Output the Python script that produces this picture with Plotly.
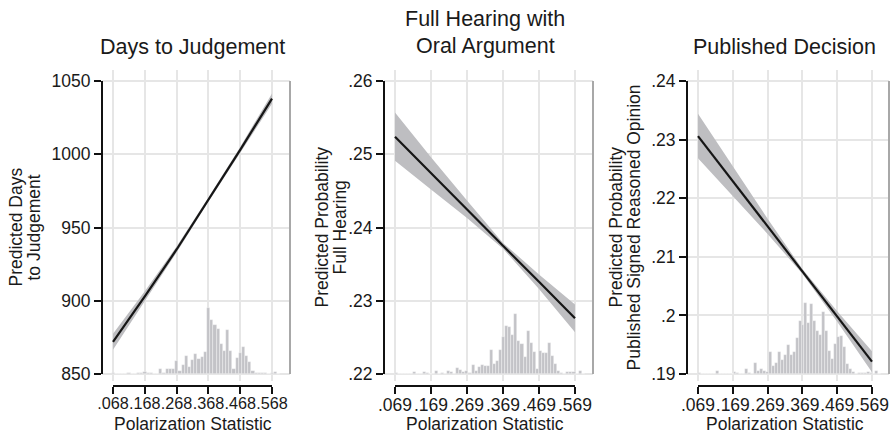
import plotly.graph_objects as go

W, H = 893, 435

# ---------------- data ----------------
x_ticks_1 = [0.068, 0.168, 0.268, 0.368, 0.468, 0.568]
x_labels_1 = [".068", ".168", ".268", ".368", ".468", ".568"]
x_ticks_23 = [0.069, 0.169, 0.269, 0.369, 0.469, 0.569]
x_labels_23 = [".069", ".169", ".269", ".369", ".469", ".569"]

days_pred = [872, 903, 935, 969, 1003, 1038]
days_lo = [866.5, 899.5, 933.0, 967.5, 1001.0, 1034.5]
days_hi = [877.5, 906.5, 937.0, 970.5, 1005.0, 1041.5]
days_yticks = [850, 900, 950, 1000, 1050]
days_ylabels = ["850", "900", "950", "1000", "1050"]

hear_pred = [0.2524, 0.2474, 0.2425, 0.2375, 0.2326, 0.2276]
hear_lo = [0.2491, 0.2452, 0.2413, 0.2371, 0.2316, 0.2257]
hear_hi = [0.2557, 0.2496, 0.2437, 0.2379, 0.2336, 0.2295]
hear_yticks = [0.22, 0.23, 0.24, 0.25, 0.26]
hear_ylabels = [".22", ".23", ".24", ".25", ".26"]

pub_pred = [0.2306, 0.2229, 0.2152, 0.2075, 0.1998, 0.1921]
pub_lo = [0.2268, 0.2204, 0.2139, 0.2071, 0.1989, 0.1903]
pub_hi = [0.2344, 0.2254, 0.2165, 0.2079, 0.2007, 0.1939]
pub_yticks = [0.19, 0.20, 0.21, 0.22, 0.23, 0.24]
pub_ylabels = [".19", ".2", ".21", ".22", ".23", ".24"]

# histograms of the polarization statistic (case counts per bin)
hist1_start, hist1_width = 0.0635, 0.01
hist1_counts = [2, 0, 0, 0, 0, 4, 0, 0, 4, 2, 6, 4, 3, 0, 0, 15, 4, 14, 14, 14,
                38, 8, 28, 55, 20, 43, 60, 45, 52, 65, 197, 162, 148, 135, 90, 70,
                133, 70, 15, 48, 63, 80, 55, 35, 10, 2, 2, 2, 2, 0, 3, 6, 0]
hist2_start, hist2_width = 0.069, 0.0085
hist2_counts = [2, 0, 0, 0, 0, 0, 5, 0, 0, 5, 3, 0, 0, 10, 0, 2, 0, 10, 5, 0,
                17, 13, 7, 10, 4, 28, 8, 20, 27, 25, 23, 72, 30, 40, 72, 112, 143,
                140, 118, 180, 100, 90, 50, 128, 93, 65, 15, 70, 63, 62, 93, 55, 30,
                8, 2, 0, 5, 6, 6, 0, 10, 0]
hist3_start, hist3_width = 0.069, 0.0085
hist3_counts = [2, 0, 0, 0, 0, 0, 8, 0, 0, 1, 1, 0, 5, 2, 0, 0, 16, 2, 0, 33,
                8, 15, 10, 5, 65, 23, 33, 65, 43, 58, 86, 58, 66, 108, 160, 148,
                213, 153, 210, 160, 130, 118, 185, 130, 70, 45, 90, 110, 115, 80,
                30, 15, 5, 0, 2, 2, 3, 5, 3, 0, 10, 0]

titles = [["Days to Judgement"], ["Full Hearing with", "Oral Argument"], ["Published Decision"]]
ytitles = [["Predicted Days", "to Judgement"],
           ["Predicted Probability", "Full Hearing"],
           ["Predicted Probability", "Published Signed Reasoned Opinion"]]
xtitle = "Polarization Statistic"

# ---------------- layout geometry (pixels) ----------------
PX_TOP, PX_AXTOP, PX_AXBOT, PX_BOT = 70, 81, 374, 381
PX_XAXIS = 386
HIST_TOP = 912.0

panels = [
    dict(left=102, right=290, t0px=113, t1px=272, xt=x_ticks_1, xl=x_labels_1,
         pred=days_pred, lo=days_lo, hi=days_hi, yt=days_yticks, yl=days_ylabels,
         hs=hist1_start, hw=hist1_width, hc=hist1_counts, xfs=16.2,
         title_x=192.5, title_y=[47], ytx=[15, 33]),
    dict(left=384, right=593, t0px=395, t1px=575, xt=x_ticks_23, xl=x_labels_23,
         pred=hear_pred, lo=hear_lo, hi=hear_hi, yt=hear_yticks, yl=hear_ylabels,
         hs=hist2_start, hw=hist2_width, hc=hist2_counts, xfs=17.5,
         title_x=485, title_y=[19, 46], ytx=[321, 339]),
    dict(left=687, right=889, t0px=698, t1px=872, xt=x_ticks_23, xl=x_labels_23,
         pred=pub_pred, lo=pub_lo, hi=pub_hi, yt=pub_yticks, yl=pub_ylabels,
         hs=hist3_start, hw=hist3_width, hc=hist3_counts, xfs=17.5,
         title_x=784.5, title_y=[47], ytx=[615, 633]),
]

FONT = "Liberation Sans, Arial, Helvetica, sans-serif"
TXT = "#1a1a1a"
GRID = "#e6e6e6"
BAND = "rgb(190,190,193)"
BARC = "rgb(195,195,199)"

fig = go.Figure()
shapes = []
annotations = []
layout = {}

def py(px):
    return 1 - px / H

for k, p in enumerate(panels):
    n = k + 1
    xa = "x" if n == 1 else f"x{n}"
    ha = "y" if n == 1 else f"y{n}"          # histogram (base) axis
    da = f"y{n + 3}"                           # data axis (overlay)
    xkey = "xaxis" if n == 1 else f"xaxis{n}"
    hkey = "yaxis" if n == 1 else f"yaxis{n}"
    dkey = f"yaxis{n + 3}"

    t0, t1 = p["xt"][0], p["xt"][-1]
    sx = (t1 - t0) / (p["t1px"] - p["t0px"])
    xr = [t0 - (p["t0px"] - p["left"]) * sx, t1 + (p["right"] - p["t1px"]) * sx]
    ymin, ymax = p["yt"][0], p["yt"][-1]
    sy = (ymax - ymin) / (PX_AXBOT - PX_AXTOP)
    yr = [ymin - (PX_BOT - PX_AXBOT) * sy, ymax + (PX_AXTOP - PX_TOP) * sy]
    sh = HIST_TOP / (PX_AXBOT - PX_TOP)
    hr = [-(PX_BOT - PX_AXBOT) * sh, HIST_TOP]
    ydom = [py(PX_BOT), py(PX_TOP)]

    # histogram
    edges = [p["hs"] + p["hw"] * i for i in range(len(p["hc"]))]
    fig.add_trace(go.Bar(x=edges, y=p["hc"], width=p["hw"], offset=0,
                         marker=dict(color=BARC, line=dict(color="rgba(255,255,255,0.55)", width=0.6)),
                         xaxis=xa, yaxis=ha, showlegend=False, hoverinfo="skip"))
    # confidence band
    fig.add_trace(go.Scatter(x=p["xt"] + p["xt"][::-1], y=p["hi"] + p["lo"][::-1],
                             fill="toself", fillcolor=BAND, line=dict(width=0),
                             mode="lines", xaxis=xa, yaxis=da, showlegend=False,
                             hoverinfo="skip"))
    # prediction line
    fig.add_trace(go.Scatter(x=p["xt"], y=p["pred"], mode="lines",
                             line=dict(color="#161616", width=2.2),
                             xaxis=xa, yaxis=da, showlegend=False))

    layout[xkey] = dict(domain=[p["left"] / W, p["right"] / W], range=xr,
                        anchor="free", position=py(PX_XAXIS),
                        tickvals=p["xt"], ticktext=p["xl"], ticks="outside",
                        ticklen=7, tickwidth=1.6, tickcolor="#111", tickangle=0,
                        ticklabelstandoff=-4, automargin=False,
                        showgrid=True, gridcolor=GRID, gridwidth=1.6,
                        showline=False, zeroline=False,
                        tickfont=dict(size=p["xfs"], color=TXT, family=FONT))
    layout[hkey] = dict(domain=ydom, range=hr, anchor=xa, showgrid=False,
                        showticklabels=False, ticks="", zeroline=False, showline=False,
                        automargin=False)
    layout[dkey] = dict(range=yr, overlaying=ha, anchor=xa, side="left",
                        tickvals=p["yt"], ticktext=p["yl"], ticks="outside",
                        ticklen=7, tickwidth=1.6, tickcolor="#111", automargin=False,
                        showgrid=True, gridcolor=GRID, gridwidth=1.6,
                        showline=False, zeroline=False,
                        tickfont=dict(size=17.5, color=TXT, family=FONT))

    # axis lines spanning only the tick range (Stata style)
    shapes.append(dict(type="line", xref=f"{xa} domain", yref=da, x0=0, x1=0,
                       y0=ymin, y1=ymax, line=dict(color="#111", width=2)))
    shapes.append(dict(type="line", xref=f"{xa} domain", yref=da, x0=1, x1=1,
                       y0=ymin, y1=ymax, line=dict(color="#a8a8a8", width=2)))
    shapes.append(dict(type="line", xref=xa, yref="paper", x0=t0, x1=t1,
                       y0=py(PX_XAXIS), y1=py(PX_XAXIS), line=dict(color="#111", width=2)))

    # titles
    for line, ty in zip(titles[k], p["title_y"]):
        annotations.append(dict(text=line, x=p["title_x"] / W, y=py(ty), xref="paper",
                                yref="paper", xanchor="center", yanchor="middle",
                                showarrow=False, font=dict(size=21.5, color=TXT, family=FONT)))
    for line, tx in zip(ytitles[k], p["ytx"]):
        annotations.append(dict(text=line, x=tx / W, y=py((PX_AXTOP + PX_AXBOT) / 2),
                                xref="paper", yref="paper", xanchor="center",
                                yanchor="middle", textangle=-90, showarrow=False,
                                font=dict(size=17.5, color=TXT, family=FONT)))
    annotations.append(dict(text=xtitle, x=(t0 + t1) / 2, y=py(424), xref=xa,
                            yref="paper", xanchor="center", yanchor="middle",
                            showarrow=False, font=dict(size=17.5, color=TXT, family=FONT)))

fig.update_layout(width=W, height=H, margin=dict(l=0, r=0, t=0, b=0, autoexpand=False),
                  paper_bgcolor="white", plot_bgcolor="white",
                  showlegend=False, bargap=0, shapes=shapes,
                  annotations=annotations, font=dict(family=FONT, color=TXT),
                  **layout)

fig.write_html("out.html")
